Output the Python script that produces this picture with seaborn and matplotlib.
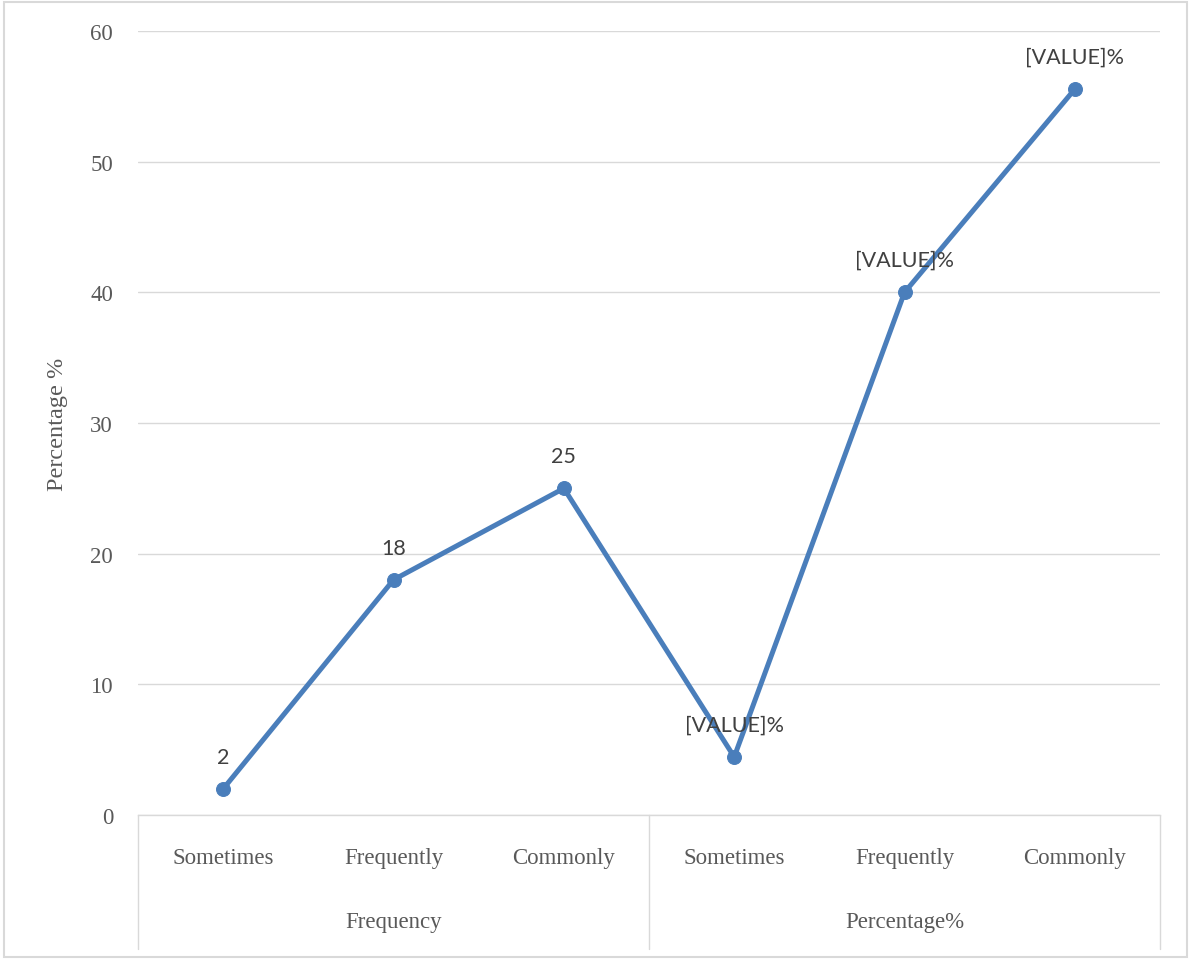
import numpy as np
import pandas as pd
import matplotlib
matplotlib.use("Agg")
import matplotlib.pyplot as plt
import matplotlib.transforms as mtransforms
from matplotlib.lines import Line2D
from matplotlib.patches import Rectangle
import seaborn as sns

# chart data
categories = ["Sometimes", "Frequently", "Commonly", "Sometimes", "Frequently", "Commonly"]
groups = ["Frequency", "Percentage%"]
group_sizes = [3, 3]
values = [2, 18, 25, 4.44, 40, 55.56]
point_labels = ["2", "18", "25", "[VALUE]%", "[VALUE]%", "[VALUE]%"]
y_ticks = [0, 10, 20, 30, 40, 50, 60]

line_color = "#4a7ebb"
text_color = "#595959"
grid_color = "#d9d9d9"

sns.set_theme(style="white")
plt.rcParams["font.family"] = ["Liberation Serif", "DejaVu Serif"]

df = pd.DataFrame({"pos": np.arange(len(values)), "value": values})

fig = plt.figure(figsize=(11.91, 9.62), dpi=100)
ax = fig.add_axes([0.1159, 0.1518, 0.8581, 0.8149])

sns.lineplot(data=df, x="pos", y="value", ax=ax, color=line_color,
             linewidth=3.6, marker="o", markersize=10,
             markeredgecolor=line_color, markerfacecolor=line_color)

ax.set_xlim(-0.5, len(values) - 0.5)
ax.set_ylim(0, 60)
ax.set_yticks(y_ticks)
ax.set_yticklabels([str(t) for t in y_ticks], fontsize=16.5, color=text_color)
ax.tick_params(axis="y", length=0, pad=18)
ax.set_xticks(df["pos"])
ax.set_xticklabels(categories, fontsize=16.5, color=text_color)
ax.tick_params(axis="x", length=0, pad=23)

ax.yaxis.grid(True, color=grid_color, linewidth=1)
ax.set_axisbelow(True)
for side in ["top", "right", "left"]:
    ax.spines[side].set_visible(False)
ax.spines["bottom"].set_color(grid_color)
ax.spines["bottom"].set_linewidth(1)

ax.set_xlabel("")
ax.set_ylabel("Percentage %", fontsize=17.5, color=text_color, labelpad=16)

# data labels
for x, y, lab in zip(df["pos"], df["value"], point_labels):
    ax.annotate(lab, (x, y), xytext=(0, 16), textcoords="offset points",
                ha="center", va="bottom", fontsize=15.5, color="#404040",
                family=["Lato", "DejaVu Sans"])

# group labels and separators of the two-level category axis
trans = mtransforms.blended_transform_factory(ax.transData, ax.transAxes)
edges = np.concatenate([[0], np.cumsum(group_sizes)]) - 0.5
for e in edges:
    ax.add_line(Line2D([e, e], [0, -0.171], transform=trans, color=grid_color,
                       linewidth=1, clip_on=False))
for g, a, b in zip(groups, edges[:-1], edges[1:]):
    ax.text((a + b) / 2, -0.1365, g, transform=trans, ha="center", va="center",
            fontsize=16.5, color=text_color)

# outer chart border
fig.patches.append(Rectangle((0.0034, 0.0042), 0.9932, 0.9927, transform=fig.transFigure,
                             fill=False, edgecolor=grid_color, linewidth=1.5))

fig.savefig("out.png", dpi=100)
